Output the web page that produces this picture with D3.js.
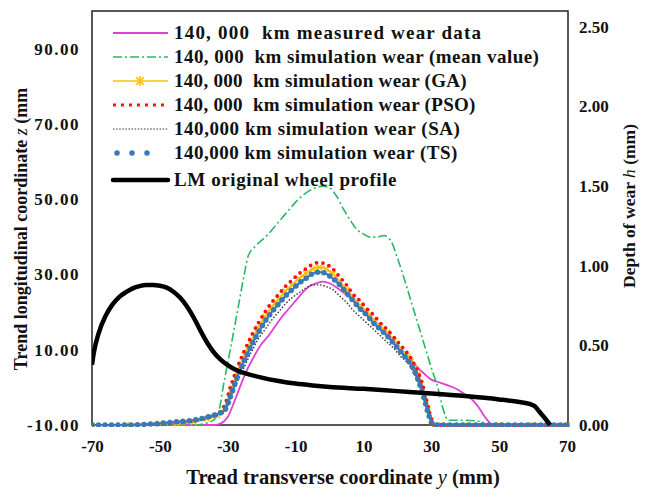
<!DOCTYPE html>
<html><head><meta charset="utf-8">
<script src="https://cdn.jsdelivr.net/npm/d3@7"></script>
<style>
html,body{margin:0;padding:0;background:#fff;}
text{font-family:"Liberation Serif","Times New Roman",serif;font-weight:bold;fill:#111;}
</style></head>
<body><svg id="c" width="651" height="497"></svg>
<script>
// ---------- data ----------
const xTicks = [-70, -50, -30, -10, 10, 30, 50, 70];
const leftTicks = [-10, 10, 30, 50, 70, 90];
const rightTicks = [0, 0.5, 1.0, 1.5, 2.0, 2.5];

const measuredX = [-70,-40,-34,-32,-30,-28,-26,-24,-22,-20,-18,-16,-14,-12,-10,-8,-6,-4,-2,0,3,6,9,12,15,18,21,24,26,28,30,32,34,36,38,40,42,44,45.5,47,48,55,70];
const measuredY = [0,0,0,0.01,0.05,0.15,0.26,0.36,0.44,0.51,0.56,0.62,0.68,0.73,0.78,0.83,0.87,0.89,0.90,0.89,0.85,0.80,0.74,0.68,0.62,0.55,0.48,0.41,0.36,0.32,0.285,0.27,0.255,0.24,0.22,0.19,0.16,0.11,0.06,0.02,0,0,0];

const meanX = [-70,-40,-35,-33,-31,-29,-27,-25,-24,-22,-20,-18,-16,-14,-12,-10,-8,-6,-4,-2,0,2,4,6,8,10,12,14,16,18,20,22,24,26,28,30,32,33.5,35,40,45,46,70];
const meanY = [0,0,0.02,0.06,0.28,0.50,0.73,0.96,1.06,1.12,1.16,1.20,1.25,1.30,1.35,1.40,1.44,1.47,1.49,1.50,1.49,1.44,1.36,1.29,1.23,1.20,1.18,1.18,1.19,1.16,1.05,0.92,0.78,0.64,0.50,0.36,0.23,0.10,0.03,0.03,0.02,0,0];

const simX = [-70,-60,-50,-45,-40,-36,-33,-31,-29,-27,-25,-23,-21,-19,-17,-15,-13,-11,-9,-7,-5,-3,-1,1,3,5,7,9,11,13,15,17,19,21,23,24,25,26,27,28,29,30,31,33,40,50,60,70];
const gaY  = [0,0,0.01,0.01,0.02,0.04,0.06,0.10,0.22,0.34,0.44,0.53,0.61,0.68,0.74,0.79,0.84,0.88,0.92,0.95,0.98,0.99,0.98,0.95,0.90,0.85,0.80,0.75,0.71,0.66,0.62,0.58,0.53,0.48,0.43,0.40,0.36,0.32,0.26,0.19,0.10,0.03,0,0,0,0,0,0];
const psoY = [0,0,0.01,0.02,0.03,0.05,0.07,0.12,0.25,0.37,0.47,0.56,0.64,0.71,0.77,0.82,0.87,0.91,0.95,0.98,1.01,1.02,1.01,0.98,0.93,0.88,0.82,0.78,0.73,0.69,0.64,0.60,0.55,0.50,0.45,0.42,0.38,0.34,0.28,0.21,0.12,0.04,0,0,0,0,0,0];
const saY  = [0,0,0,0.01,0.02,0.04,0.06,0.08,0.17,0.28,0.37,0.46,0.54,0.60,0.66,0.71,0.76,0.80,0.83,0.86,0.88,0.88,0.87,0.85,0.81,0.77,0.72,0.68,0.64,0.60,0.56,0.52,0.48,0.43,0.39,0.36,0.32,0.27,0.21,0.14,0.07,0.02,0,0,0,0,0,0];
const tsY  = [0,0,0.01,0.02,0.03,0.05,0.07,0.09,0.19,0.31,0.41,0.50,0.58,0.65,0.71,0.76,0.81,0.85,0.89,0.92,0.95,0.96,0.95,0.92,0.88,0.83,0.78,0.73,0.69,0.64,0.60,0.56,0.51,0.46,0.41,0.38,0.34,0.29,0.23,0.16,0.08,0.02,0,0,0,0,0,0];

const profileX = [-70,-69.5,-68,-66,-64,-62,-60,-58,-56,-54,-52,-50,-48,-46,-44,-42,-40,-38,-36,-34,-32,-30,-28,-25,-20,-15,-10,-5,0,10,20,30,40,50,56,59,60.5,62,63.5,65];
const profileZ = [6,9,14.5,19,22,24,25.3,26.3,26.9,27.2,27.2,27,26.5,25.4,23.8,21.5,18.5,15,11.8,9.2,7.3,5.9,4.8,3.8,2.6,1.7,1.0,0.5,0.1,-0.4,-1.0,-1.6,-2.3,-3.2,-3.9,-4.4,-5,-6.6,-8.2,-10];

const legendLabels = [
  "140, 000  km measured wear data",
  "140, 000  km simulation wear (mean value)",
  "140, 000  km simulation wear (GA)",
  "140, 000  km simulation wear (PSO)",
  "140,000 km simulation wear (SA)",
  "140,000 km simulation wear (TS)",
  "LM original wheel profile"
];

// ---------- layout ----------
const svg = d3.select("#c");
const L = 92, R = 568, T = 11, B = 425;
const x = d3.scaleLinear().domain([-70, 70]).range([L, R - 1]);
const yL = d3.scaleLinear().domain([-10, 100]).range([B, T]);
const yR = d3.scaleLinear().domain([0, 2.6]).range([B, T]);

svg.append("defs").append("clipPath").attr("id","clip")
  .append("rect").attr("x", L).attr("y", T - 2).attr("width", R - L + 2).attr("height", B - T + 4);

// axes labels
const fmt2 = d => d.toFixed(2);
const ax = svg.append("g").attr("transform", `translate(0,${B})`)
  .call(d3.axisBottom(x).tickValues(xTicks).tickSize(0).tickPadding(15).tickFormat(d => String(d)));
const ayl = svg.append("g").attr("transform", `translate(${L},0)`)
  .call(d3.axisLeft(yL).tickValues(leftTicks).tickSize(0).tickPadding(12).tickFormat(fmt2));
const ayr = svg.append("g").attr("transform", `translate(${R},0)`)
  .call(d3.axisRight(yR).tickValues(rightTicks).tickSize(0).tickPadding(11).tickFormat(fmt2));
[ax, ayl, ayr].forEach(g => {
  g.select(".domain").remove();
  g.selectAll("text").style("font-family", '"Liberation Serif",serif').style("font-weight","bold")
    .style("font-size","17px").attr("fill","#111");
});
ayl.selectAll("text").style("letter-spacing","1.5px");

// frame
svg.append("rect").attr("x", L).attr("y", T).attr("width", R - L).attr("height", B - T)
  .attr("fill","none").attr("stroke","#222").attr("stroke-width",1.5);

// curves
const plot = svg.append("g").attr("clip-path","url(#clip)");
const lineR = d3.line().x(d => x(d[0])).y(d => yR(d[1])).curve(d3.curveMonotoneX);
const lineL = d3.line().x(d => x(d[0])).y(d => yL(d[1])).curve(d3.curveMonotoneX);
const zip = (a, b) => a.map((v, i) => [v, b[i]]);

const styles = [
  {stroke:"#E040D8", width:1.8, dash:null},
  {stroke:"#28B864", width:1.6, dash:"9,3,2,3"},
  {stroke:"#FFC000", width:2.2, dash:null, marker:true},
  {stroke:"#FF1010", width:3.8, dash:"0,6.5", cap:"round"},
  {stroke:"#333", width:1.4, dash:"1.5,1.8"},
  {stroke:"#3A78B8", width:5.5, dash:"0,6.5", cap:"round", under:true},
  {stroke:"#000", width:4.5, dash:null}
];

function drawSeries(data, st, lineGen) {
  if (st.under) plot.append("path").datum(data).attr("d", lineGen).attr("fill","none")
    .attr("stroke", st.stroke).attr("stroke-width", 2.2);
  plot.append("path").datum(data).attr("d", lineGen).attr("fill","none")
    .attr("stroke", st.stroke).attr("stroke-width", st.width)
    .attr("stroke-dasharray", st.dash).attr("stroke-linecap", st.cap || "butt")
    .attr("stroke-linejoin","round");
  if (st.marker) {
    plot.selectAll(null).data(data).enter().append("path")
      .attr("transform", d => `translate(${lineGen.x()(d)},${lineGen.y()(d)})`)
      .attr("d", d3.symbol(d3.symbolTimes, 22)()).attr("fill","none")
      .attr("stroke", st.stroke).attr("stroke-width", 1.6);
  }
}
drawSeries(zip(measuredX, measuredY), styles[0], lineR);
drawSeries(zip(meanX, meanY), styles[1], lineR);
drawSeries(zip(simX, gaY), styles[2], lineR);
drawSeries(zip(simX, psoY), styles[3], lineR);
drawSeries(zip(simX, saY), styles[4], lineR);
drawSeries(zip(simX, tsY), styles[5], lineR);
drawSeries(zip(profileX, profileZ), styles[6], lineL);

// legend
const legY = [33, 57, 81, 105, 129, 153, 180];
const legDash = [null, "9,3,2,3", null, "3,5", "1.5,1.6", "0,15", null];
const legWidth = [2, 1.6, 1.6, 3, 1.2, 5.5, 4.5];
const legCap = ["butt","butt","butt","butt","butt","round","round"];
const legSpacing = [1.2, 0.45, 0.3, 0.3, 0.55, 0.5, 0.6];
const lg = svg.append("g");
legendLabels.forEach((lab, i) => {
  const st = styles[i];
  const xs0 = i === 5 ? 117 : 113;
  lg.append("line").attr("x1", xs0).attr("x2", i === 5 ? 162 : 168).attr("y1", legY[i]).attr("y2", legY[i])
    .attr("stroke", st.stroke).attr("stroke-width", legWidth[i])
    .attr("stroke-dasharray", legDash[i]).attr("stroke-linecap", legCap[i]);
  if (i === 2) {
    lg.append("path").attr("transform", `translate(140,${legY[i]})`)
      .attr("d", d3.symbol(d3.symbolTimes, 40)()).attr("stroke", st.stroke).attr("stroke-width",1.6);
    lg.append("line").attr("x1",140).attr("x2",140).attr("y1",legY[i]-5).attr("y2",legY[i]+5)
      .attr("stroke", st.stroke).attr("stroke-width",1.6);
  }
  lg.append("text").attr("x", 174).attr("y", legY[i] + 6)
    .style("font-size","19px").style("white-space","pre").style("letter-spacing", legSpacing[i] + "px").text(lab);
});

// axis titles
const xt = svg.append("text").attr("x", 343).attr("y", 484).attr("text-anchor","middle").style("font-size","20.5px");
xt.append("tspan").text("Tread transverse coordinate ");
xt.append("tspan").style("font-style","italic").style("font-weight","normal").text("y");
xt.append("tspan").text(" (mm)");

const ylT = svg.append("text").attr("transform","translate(27,229) rotate(-90)").attr("text-anchor","middle").style("font-size","18px");
ylT.append("tspan").text("Trend longitudinal coordinate ");
ylT.append("tspan").style("font-style","italic").style("font-weight","normal").text("z");
ylT.append("tspan").text(" (mm");

const yrT = svg.append("text").attr("transform","translate(635,206) rotate(-90)").attr("text-anchor","middle").style("font-size","17.5px");
yrT.append("tspan").text("Depth of wear ");
yrT.append("tspan").style("font-style","italic").style("font-weight","normal").text("h");
yrT.append("tspan").text(" (mm)");
</script></body></html>
